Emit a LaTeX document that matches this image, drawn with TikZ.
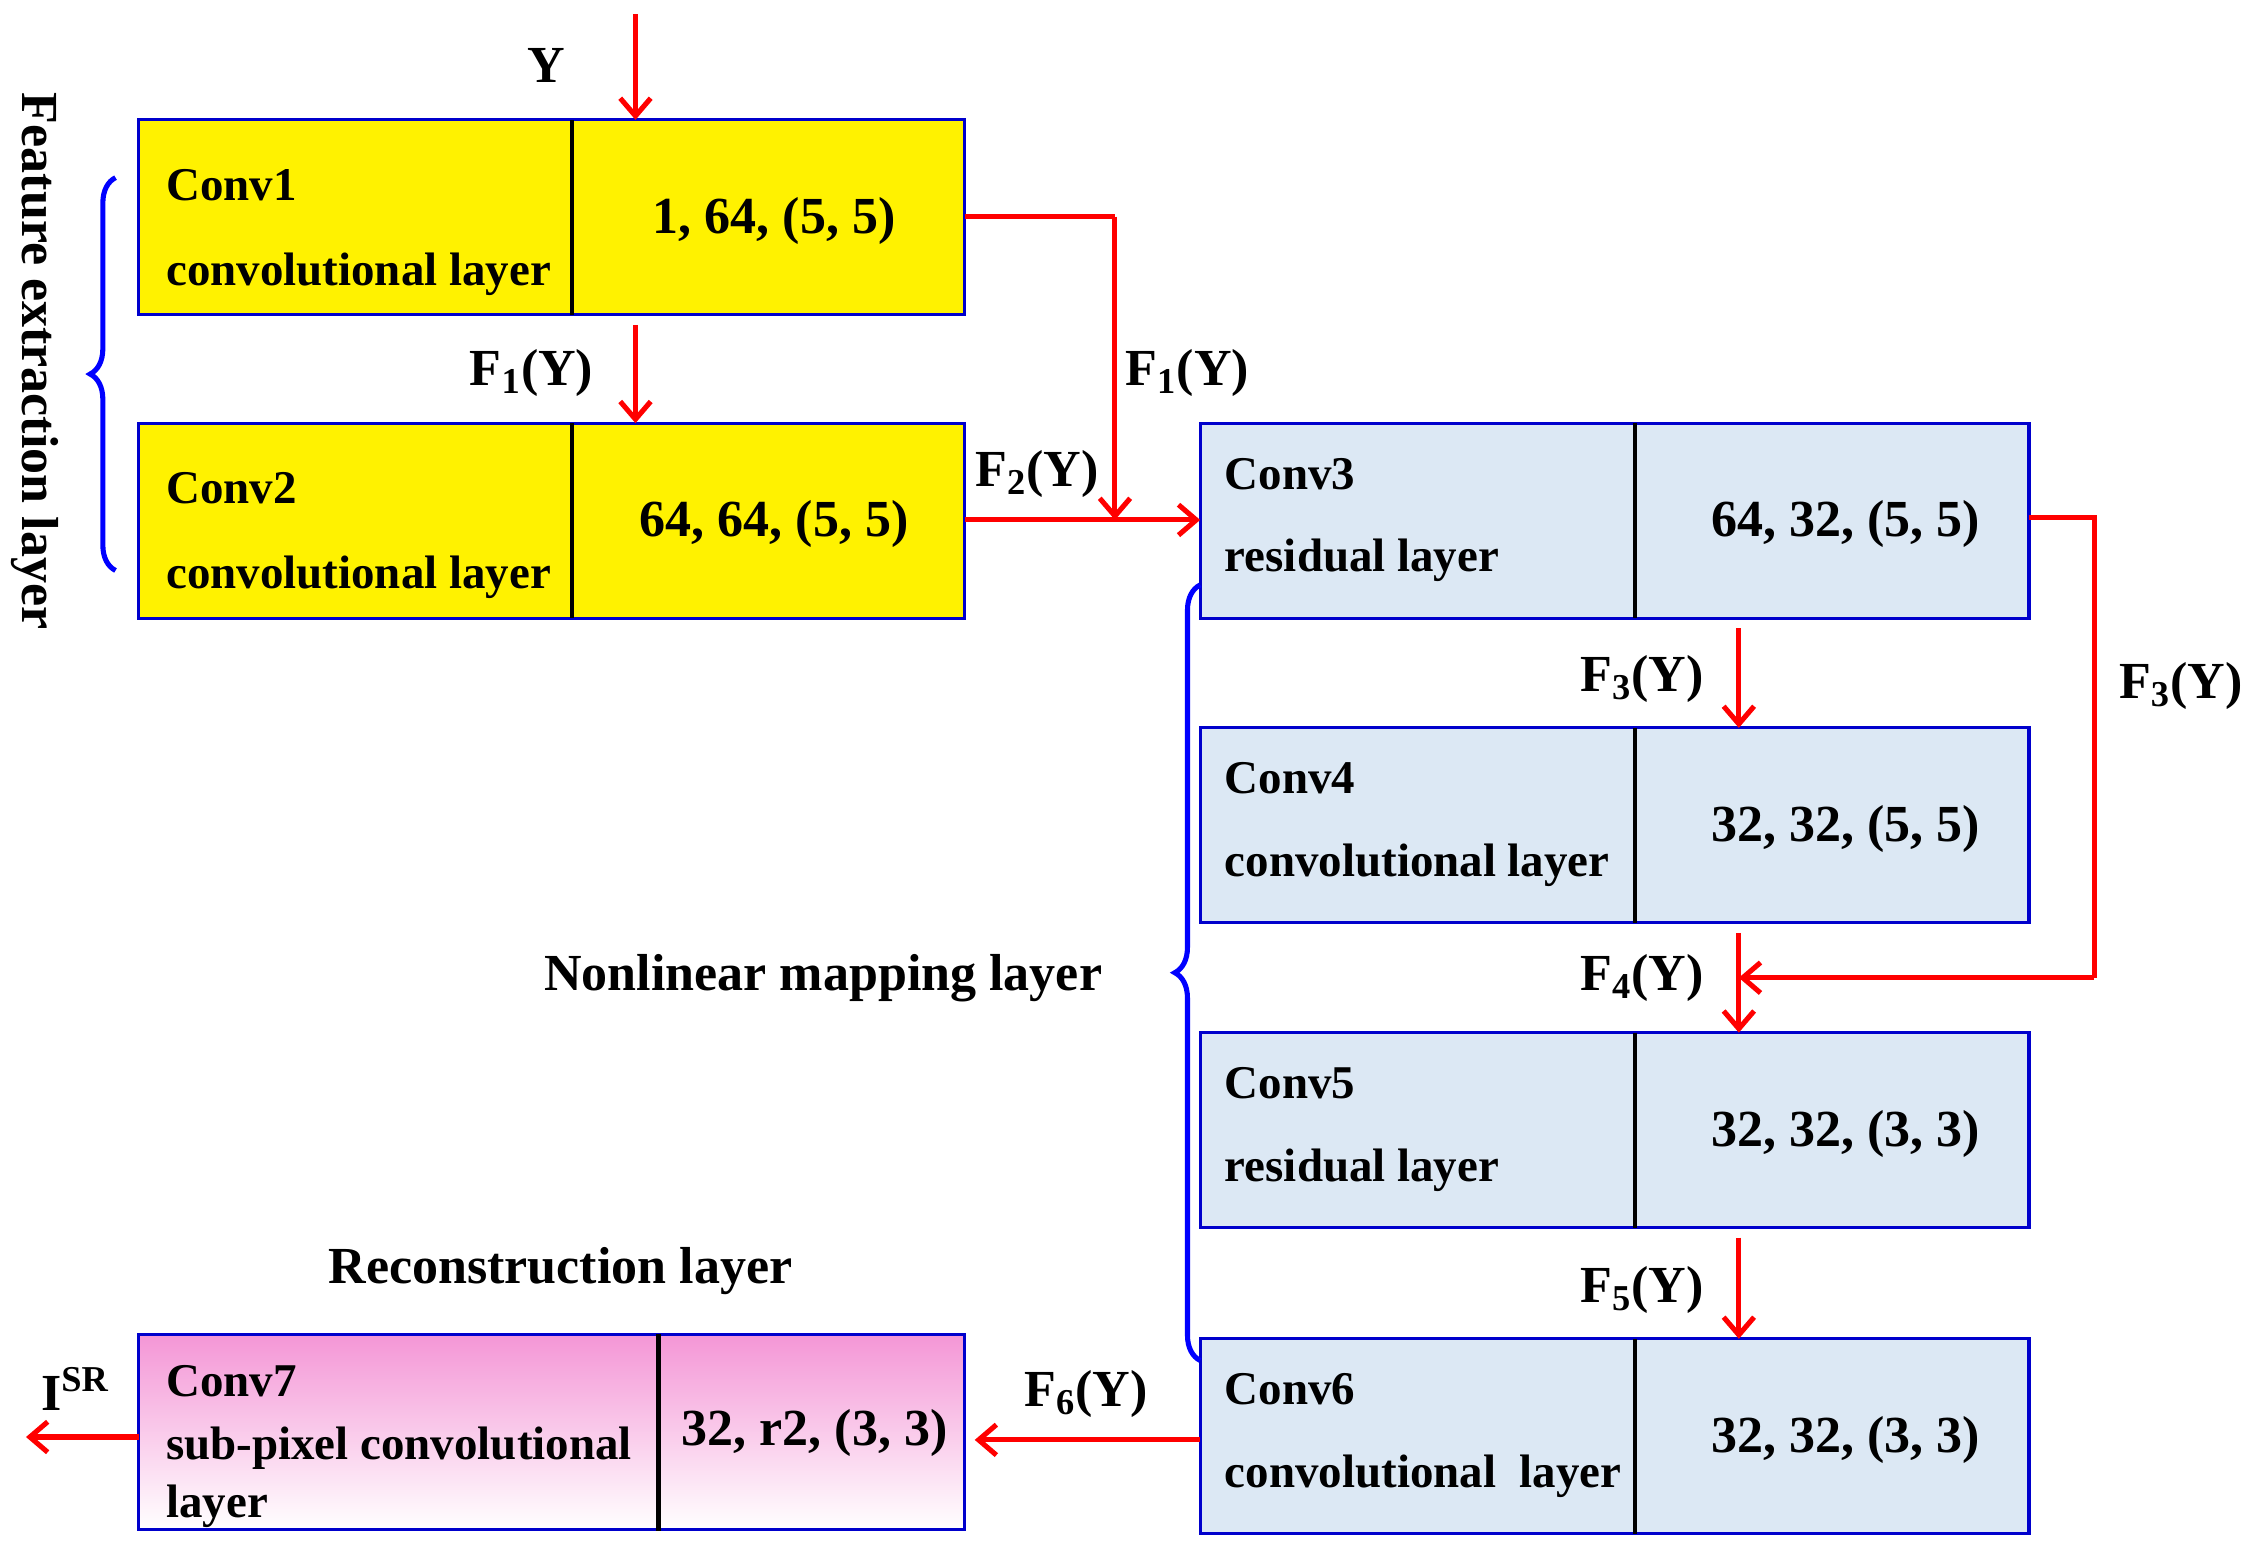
\documentclass[tikz,border=0pt]{standalone}
\usepackage{fontspec}
\setmainfont{Liberation Serif}
\usetikzlibrary{decorations.pathreplacing,arrows.meta}
\definecolor{lblue}{RGB}{220,232,244}
\definecolor{lpink}{RGB}{244,150,214}
\tikzset{
  box/.style={draw=blue!80!black, line width=1.2pt, anchor=north west, inner sep=0pt, outer sep=0pt, minimum height=2.7cm},
  lbl/.style={font=\fontsize{18.5}{22}\bfseries\selectfont, inner sep=1pt},
  val/.style={font=\fontsize{20.5}{24}\bfseries\selectfont, inner sep=1pt},
  arr/.style={draw=red, line width=2pt, -{Straight Barb[length=7pt,width=12pt]}},
  ln/.style={draw=red, line width=2pt},
  brc/.style={draw=blue, line width=2pt, decorate, decoration={brace, amplitude=10pt}}
}
\newcommand{\Fy}[1]{F\textsubscript{#1}(Y)}
\begin{document}
\begin{tikzpicture}[x=0.02cm,y=-0.02cm]
\useasboundingbox (0,0) rectangle (1560,1069);
% boxes
\node[box, fill=yellow, minimum width=11.44cm] (c1) at (96,83) {};
\node[box, fill=yellow, minimum width=11.44cm] (c2) at (96,293) {};
\node[box, fill=lblue, minimum width=11.48cm] (c3) at (831,293) {};
\node[box, fill=lblue, minimum width=11.48cm] (c4) at (831,504) {};
\node[box, fill=lblue, minimum width=11.48cm] (c5) at (831,715) {};
\node[box, fill=lblue, minimum width=11.48cm] (c6) at (831,927) {};
\node[box, top color=lpink, bottom color=white, minimum width=11.44cm] (c7) at (96,924) {};
\draw[line width=1.8pt] (396,83) -- (396,218) (396,293) -- (396,428);
\foreach \y in {293,504,715,927} \draw[line width=1.8pt] (1132,\y) -- ++(0,135);
\draw[line width=1.8pt] (456,924) -- (456,1060);
% texts
\node[lbl, anchor=west] at (113,128) {Conv1};
\node[lbl, anchor=west] at (113,190) {convolutional layer};
\node[val] at (536,153) {1, 64, (5, 5)};
\node[lbl, anchor=west] at (113,338) {Conv2};
\node[lbl, anchor=west] at (113,400) {convolutional layer};
\node[val] at (536,363) {64, 64, (5, 5)};
\node[lbl, anchor=west] at (846,328) {Conv3};
\node[lbl, anchor=west] at (846,388) {residual layer};
\node[val] at (1278,363) {64, 32, (5, 5)};
\node[lbl, anchor=west] at (846,539) {Conv4};
\node[lbl, anchor=west] at (846,599) {convolutional layer};
\node[val] at (1278,574) {32, 32, (5, 5)};
\node[lbl, anchor=west] at (846,750) {Conv5};
\node[lbl, anchor=west] at (846,810) {residual layer};
\node[val] at (1278,785) {32, 32, (3, 3)};
\node[lbl, anchor=west] at (846,962) {Conv6};
\node[lbl, anchor=west] at (846,1022) {convolutional\ \ layer};
\node[val] at (1278,997) {32, 32, (3, 3)};
\node[lbl, anchor=west] at (113,956) {Conv7};
\node[lbl, anchor=west] at (113,1003) {sub-pixel convolutional};
\node[lbl, anchor=west] at (113,1043) {layer};
\node[val] at (564,992) {32, r2, (3, 3)};
% connectors
\coordinate (yin) at (440,10);
\coordinate (k1) at (772,150);
\coordinate (k2) at (1450,358);
\coordinate (k3) at (1450,677);
\coordinate (out) at (18,995);
\draw[arr] (yin) -- (c1.north -| yin);
\node[val] at (378,45) {Y};
\draw[arr] ([yshift=-4pt]c1.south -| yin) -- (c2.north -| yin);
\node[val] at (368,258) {\Fy{1}};
\draw[ln] (c1.east |- k1) -- (k1);
\draw[arr] (k1) -- (772,360);
\node[val] at (822,258) {\Fy{1}};
\draw[arr] (c2.east |- 0,360) -- (c3.west |- 0,360);
\node[val] at (718,328) {\Fy{2}};
\draw[arr] ([yshift=-4pt]c3.south -| 1204,0) -- (c4.north -| 1204,0);
\node[val] at (1137,470) {\Fy{3}};
\draw[ln] (c3.east |- k2) -- (k2) -- (k3);
\draw[arr] (k3) -- (1204,677);
\node[val] at (1510,475) {\Fy{3}};
\draw[arr] ([yshift=-4pt]c4.south -| 1204,0) -- (c5.north -| 1204,0);
\node[val] at (1137,677) {\Fy{4}};
\draw[arr] ([yshift=-4pt]c5.south -| 1204,0) -- (c6.north -| 1204,0);
\node[val] at (1137,893) {\Fy{5}};
\draw[arr] (c6.west |- 0,997) -- ([xshift=4pt]c7.east |- 0,997);
\node[val] at (752,965) {\Fy{6}};
\draw[arr] (c7.west |- out) -- (out);
\node[val] at (52,962) {I\textsuperscript{SR}};
% braces
\draw[brc] (80,395) -- (80,123);
\node[val, rotate=-90] at (24,250) {Feature extraction layer};
\draw[brc] (831,942) -- (831,405);
\node[val] at (570,677) {Nonlinear mapping layer};
\node[val] at (388,880) {Reconstruction layer};
\end{tikzpicture}
\end{document}
